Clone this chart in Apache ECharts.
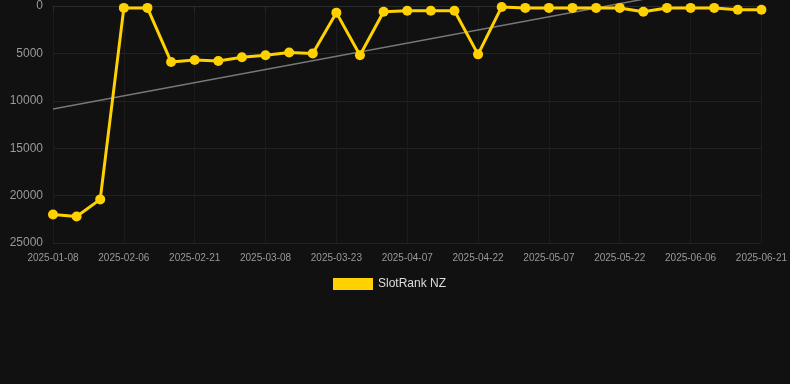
<!DOCTYPE html>
<html>
<head>
<meta charset="utf-8">
<script src="https://cdn.jsdelivr.net/npm/echarts@6/dist/echarts.min.js"></script>
<style>
    html, body { margin: 0; padding: 0; background: #111111; }
    #chartRank { width: 790px; height: 384px; }
</style>
</head>
<body>
<div id="chartRank"></div>
<script>
// 日期
var categories = ['2025-01-08', '2025-01-18', '2025-01-27', '2025-02-06', '2025-02-11', '2025-02-16',
    '2025-02-21', '2025-02-26', '2025-03-03', '2025-03-08', '2025-03-13', '2025-03-18', '2025-03-23',
    '2025-03-28', '2025-04-02', '2025-04-07', '2025-04-12', '2025-04-17', '2025-04-22', '2025-04-27',
    '2025-05-02', '2025-05-07', '2025-05-12', '2025-05-17', '2025-05-22', '2025-05-27', '2025-06-01',
    '2025-06-06', '2025-06-11', '2025-06-16', '2025-06-21'];

// 排名
var rankValues = [22000, 22200, 20400, 200, 200, 5900, 5700, 5800, 5400, 5200, 4900, 5000, 700,
    5200, 600, 500, 500, 500, 5100, 100, 200, 200, 200, 200, 200, 600, 200, 200, 200, 400, 400];

// 趨勢線 (起點, 終點)
var trendPoints = [[0, 10870], [30, -3030]];

var yTicks = [0, 5000, 10000, 15000, 20000, 25000];

function renderRank() {
    var domChart = document.getElementById("chartRank");
    var myChart = echarts.init(domChart);

    var option = {
        backgroundColor: '#111111',
        animation: false,
        legend: {
            data: ['SlotRank NZ'],
            top: 273,
            left: 328,
            itemWidth: 40,
            itemHeight: 12,
            icon: 'rect',
            textStyle: {
                color: '#dddddd',
                fontSize: 12,
                fontFamily: 'Arial, Liberation Sans, sans-serif'
            }
        },
        grid: {
            left: 53,
            right: 28,
            top: 6,
            bottom: 141,
            containLabel: false
        },
        xAxis: [{
            type: 'category',
            boundaryGap: false,
            data: categories,
            axisLine: { lineStyle: { color: '#2a2a2a' } },
            axisTick: { show: true, interval: 2, lineStyle: { color: '#2a2a2a' } },
            axisLabel: {
                interval: 2,
                color: '#999',
                fontSize: 10,
                margin: 10,
                fontFamily: 'Arial, Liberation Sans, sans-serif'
            },
            splitLine: {
                show: true,
                interval: 2,
                lineStyle: { color: '#1c1c1c' }
            }
        }],
        yAxis: [{
            type: 'value',
            inverse: true,
            min: yTicks[0],
            max: yTicks[yTicks.length - 1],
            interval: 5000,
            axisLine: { show: false },
            axisTick: { show: false },
            axisLabel: {
                color: '#999',
                fontSize: 12,
                margin: 10,
                formatter: function(v) { return String(v); },
                fontFamily: 'Arial, Liberation Sans, sans-serif'
            },
            splitLine: {
                lineStyle: { color: '#222' }
            }
        }],
        series: [{
                name: 'SlotRank NZ',
                type: 'line',
                data: rankValues,
                symbol: 'circle',
                symbolSize: 10,
                itemStyle: { color: '#ffd100' },
                lineStyle: { width: 3, color: '#ffd100' },
                z: 3
            },
            {
                name: 'trend',
                type: 'line',
                data: trendPoints,
                showSymbol: false,
                symbol: 'none',
                clip: false,
                lineStyle: { width: 1.5, color: '#777' },
                z: 2
            }
        ]
    };
    myChart.setOption(option);

    window.addEventListener('resize', function() {
        myChart.resize();
    });
}

renderRank();
</script>
</body>
</html>
